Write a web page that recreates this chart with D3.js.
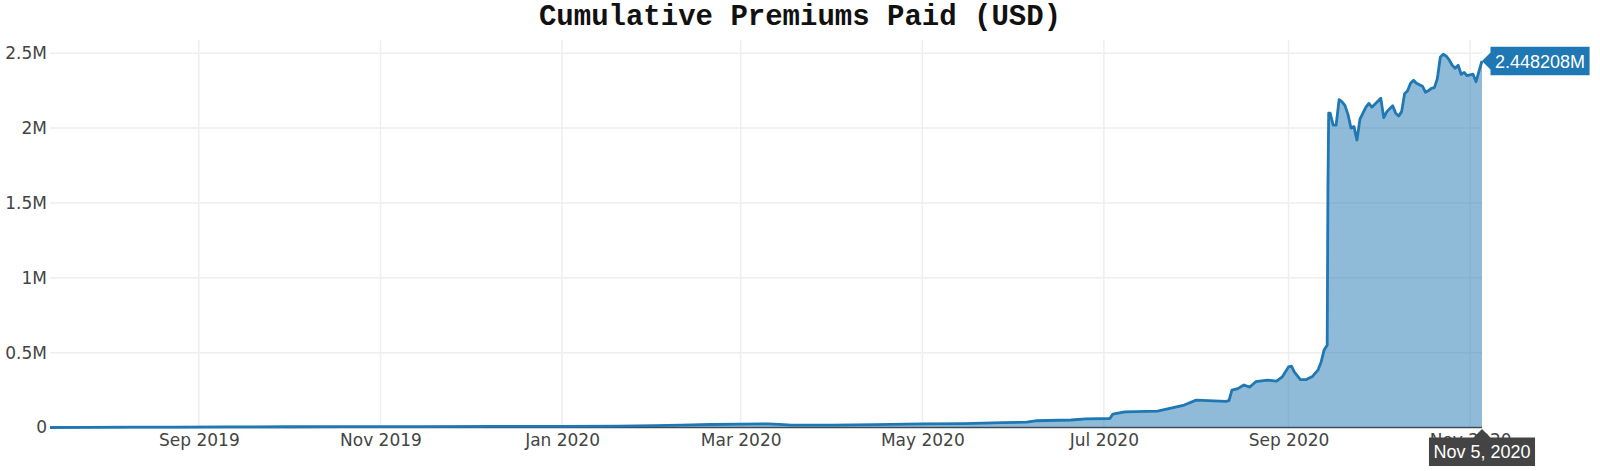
<!DOCTYPE html>
<html>
<head>
<meta charset="utf-8">
<script src="https://cdn.jsdelivr.net/npm/d3@7"></script>
<style>
  body { margin: 0; background: #fff; }
  svg { display: block; }
</style>
</head>
<body>
<div id="chart"></div>
<script>
// values (USD, cumulative)
var dates = [
  "2019-07-13","2019-07-25","2019-08-10","2019-08-25","2019-09-10","2019-10-01","2019-10-20",
  "2019-11-15","2019-12-10","2020-01-01","2020-01-20","2020-02-01","2020-02-10","2020-02-20",
  "2020-03-01","2020-03-10","2020-03-14","2020-03-18","2020-04-01","2020-04-15","2020-05-01",
  "2020-05-15","2020-05-28","2020-06-05","2020-06-08","2020-06-20","2020-06-25","2020-07-03",
  "2020-07-04","2020-07-08","2020-07-19","2020-07-22","2020-07-28","2020-08-01","2020-08-11",
  "2020-08-12","2020-08-13","2020-08-15","2020-08-17","2020-08-19","2020-08-21","2020-08-25",
  "2020-08-28","2020-08-30","2020-09-01","2020-09-02","2020-09-03","2020-09-05","2020-09-07",
  "2020-09-09","2020-09-11","2020-09-12","2020-09-13","2020-09-14T00:00","2020-09-14T06:00",
  "2020-09-14T12:00","2020-09-15","2020-09-16","2020-09-17","2020-09-18","2020-09-19","2020-09-20",
  "2020-09-21","2020-09-22","2020-09-23","2020-09-24","2020-09-25","2020-09-26","2020-09-27",
  "2020-09-28","2020-09-29","2020-09-30","2020-10-01","2020-10-02","2020-10-03","2020-10-04",
  "2020-10-05","2020-10-06","2020-10-07","2020-10-08","2020-10-09","2020-10-10","2020-10-11",
  "2020-10-12","2020-10-13","2020-10-14","2020-10-15","2020-10-16","2020-10-17","2020-10-18",
  "2020-10-19","2020-10-20","2020-10-21","2020-10-22","2020-10-23","2020-10-24","2020-10-25",
  "2020-10-26","2020-10-27","2020-10-28","2020-10-29","2020-10-30","2020-10-31","2020-11-01",
  "2020-11-02","2020-11-03","2020-11-04","2020-11-05"
];
var premiums = [
  0, 1000, 2000, 3000, 4000, 5000, 6000,
  6000, 7000, 8000, 9000, 12000, 16000, 20000,
  23000, 24000, 21000, 16000, 16000, 19000, 24000,
  26000, 32000, 36000, 45000, 50000, 57000, 60000,
  90000, 105000, 110000, 123000, 150000, 183000, 175000,
  180000, 250000, 260000, 284000, 270000, 306000, 317000,
  310000, 340000, 405000, 410000, 370000, 320000, 320000,
  340000, 387000, 440000, 520000, 550000, 1600000,
  2100000, 2100000, 2020000, 2020000, 2190000, 2175000, 2150000,
  2090000, 2000000, 2010000, 1920000, 2060000, 2100000, 2140000,
  2165000, 2140000, 2160000, 2180000, 2200000, 2070000, 2108000,
  2130000, 2150000, 2100000, 2080000, 2110000, 2230000, 2250000,
  2300000, 2320000, 2300000, 2290000, 2280000, 2240000, 2250000,
  2265000, 2270000, 2330000, 2475000, 2493000, 2480000, 2455000,
  2420000, 2400000, 2420000, 2360000, 2372000, 2350000, 2355000,
  2360000, 2310000, 2380000, 2448208
];
var yTicks = [0, 500000, 1000000, 1500000, 2000000, 2500000];
var yTickLabels = ["0", "0.5M", "1M", "1.5M", "2M", "2.5M"];
var chartTitle = "Cumulative Premiums Paid (USD)";
var hoverValue = "2.448208M";
var hoverDate = "Nov 5, 2020";

// layout (plot box edges)
var width = 1600, height = 471;
var plotL = 50, plotR = 1482, plotT = 40, plotB = 427.5;
var yMax = 2588500;
var blue = "#1f77b4";

var parse = d3.isoParse;
var data = dates.map(function(d, i){
  return { date: parse(d), value: premiums[i] };
});

var x = d3.scaleTime()
  .domain(d3.extent(data, function(d){ return d.date; }))
  .range([plotL, plotR]);
var y = d3.scaleLinear()
  .domain([0, yMax])
  .range([plotB, plotT]);

var svg = d3.select("#chart").append("svg")
  .attr("width", width)
  .attr("height", height);

svg.append("defs").append("clipPath").attr("id", "plotclip")
  .append("rect")
  .attr("x", plotL).attr("y", plotT)
  .attr("width", plotR - plotL).attr("height", plotB - plotT);

// gridlines
var xTickDates = x.ticks(d3.timeMonth.every(2));
svg.append("g").selectAll("line")
  .data(xTickDates)
  .enter().append("line")
  .attr("x1", function(d){ return x(d); })
  .attr("x2", function(d){ return x(d); })
  .attr("y1", plotT).attr("y2", plotB)
  .attr("stroke", "#eee").attr("stroke-width", 1.5);

svg.append("g").selectAll("line")
  .data(yTicks.slice(1))
  .enter().append("line")
  .attr("x1", plotL).attr("x2", plotR)
  .attr("y1", function(d){ return y(d); })
  .attr("y2", function(d){ return y(d); })
  .attr("stroke", "#eee").attr("stroke-width", 1.5);

// zero line
svg.append("line")
  .attr("x1", plotL).attr("x2", plotR)
  .attr("y1", y(0)).attr("y2", y(0))
  .attr("stroke", "#444").attr("stroke-width", 1.5);

// area + line
var plot = svg.append("g").attr("clip-path", "url(#plotclip)");
plot.append("path")
  .datum(data)
  .attr("fill", "rgba(31,119,180,0.5)")
  .attr("d", d3.area()
    .x(function(d){ return x(d.date); })
    .y0(y(0))
    .y1(function(d){ return y(d.value); }));

svg.append("path")
  .datum(data)
  .attr("fill", "none")
  .attr("stroke", blue)
  .attr("stroke-width", 2.8)
  .attr("stroke-linejoin", "round")
  .attr("d", d3.line()
    .x(function(d){ return x(d.date); })
    .y(function(d){ return y(d.value); }));

// axes labels
var tickFont = "DejaVu Sans, Verdana, sans-serif";
var yAxis = d3.axisLeft(y).tickValues(yTicks)
  .tickFormat(function(d, i){ return yTickLabels[i]; })
  .tickSize(0).tickPadding(3);
var gy = svg.append("g").attr("transform", "translate(" + plotL + ",0)").call(yAxis);
gy.select(".domain").remove();
gy.selectAll("text").attr("font-family", tickFont).attr("font-size", 17).attr("fill", "#444");

var xAxis = d3.axisBottom(x).tickValues(xTickDates)
  .tickFormat(d3.timeFormat("%b %Y"))
  .tickSize(0).tickPadding(6);
var gx = svg.append("g").attr("transform", "translate(0," + plotB + ")").call(xAxis);
gx.select(".domain").remove();
gx.selectAll("text").attr("font-family", tickFont).attr("font-size", 17).attr("fill", "#444");

// title
svg.append("text")
  .attr("x", width / 2).attr("y", 25)
  .attr("text-anchor", "middle")
  .attr("font-family", "Liberation Mono, Courier New, monospace")
  .attr("font-weight", "bold")
  .attr("font-size", 29)
  .attr("fill", "#111")
  .text(chartTitle);

// hover labels at the last point
var last = data[data.length - 1];
var px = x(last.date), py = y(last.value);
var hoverFont = "Liberation Sans, Arial, sans-serif";
var arrow = 8.5, pad = 4.5, boxH = 28.5;

var hv = svg.append("g").attr("transform", "translate(" + px + "," + py + ")");
var hvPath = hv.append("path").attr("fill", blue);
var hvText = hv.append("text")
  .attr("x", arrow + pad).attr("y", 6.5)
  .attr("font-family", hoverFont).attr("font-size", 18)
  .attr("fill", "#fff")
  .text(hoverValue);
var tw = hvText.node().getComputedTextLength();
hvPath.attr("d", "M0,0L" + arrow + "," + (-arrow) + "V" + (-boxH / 2) + "H" + (arrow + tw + 2 * pad) +
  "V" + (boxH / 2) + "H" + arrow + "V" + arrow + "Z");

var hx = svg.append("g").attr("transform", "translate(" + px + "," + (plotB + 1.5) + ")");
var hxPath = hx.append("path").attr("fill", "#444");
var hxText = hx.append("text")
  .attr("x", 0).attr("y", arrow + boxH / 2 + 6.5)
  .attr("text-anchor", "middle")
  .attr("font-family", hoverFont).attr("font-size", 18)
  .attr("fill", "#fff")
  .text(hoverDate);
var dw = hxText.node().getComputedTextLength() + 2 * pad;
hxPath.attr("d", "M0,0L" + (-arrow) + "," + arrow + "H" + (-dw / 2) + "V" + (arrow + boxH) +
  "H" + (dw / 2) + "V" + arrow + "H" + arrow + "Z");
</script>
</body>
</html>
